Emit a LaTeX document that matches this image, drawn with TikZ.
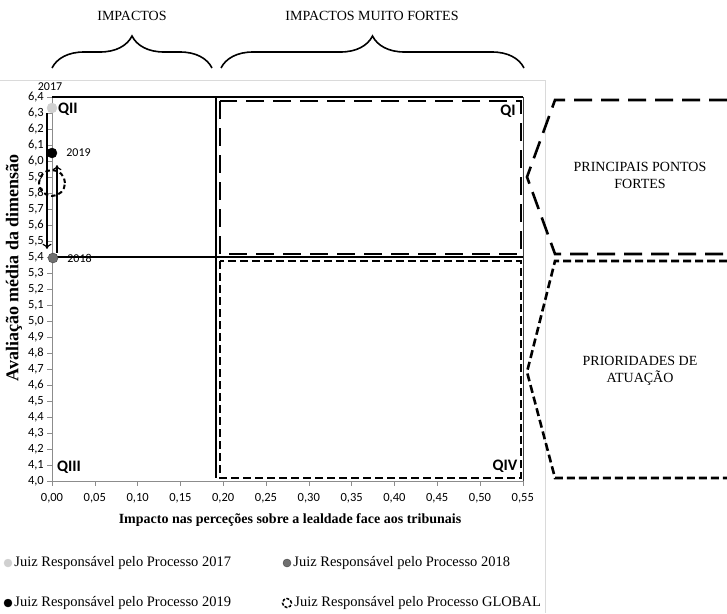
\documentclass[tikz,border=0pt]{standalone}
\usepackage{fontspec}
\setmainfont{Liberation Serif}
\newfontfamily\calfont{Carlito}
\usepackage{tikz}
\usetikzlibrary{positioning, arrows.meta, decorations.pathreplacing, calc}

\definecolor{pale}{HTML}{D0D0D0}
\definecolor{mid}{HTML}{707070}
\definecolor{axisgray}{HTML}{8C8C8C}
\definecolor{framegray}{HTML}{DADADA}

\tikzset{
    ticktext/.style={font=\calfont\fontsize{12.5}{14}\selectfont, inner sep=1pt},
    yeartext/.style={font=\calfont\fontsize{12}{14}\selectfont, inner sep=0pt},
    quadtext/.style={font=\calfont\bfseries\fontsize{16}{18}\selectfont, inner sep=1pt},
    headtext/.style={font=\fontsize{14}{17}\selectfont, align=center},
    legendtext/.style={font=\fontsize{14.5}{17}\selectfont, inner sep=0pt},
    axistitle/.style={font=\bfseries\fontsize{14}{17}\selectfont},
    longdash/.style={line width=2.6pt, dash pattern=on 18pt off 9pt},
    shortdash/.style={line width=2.6pt, dash pattern=on 8pt off 4pt},
    dot/.style={circle, minimum size=10pt, inner sep=0pt},
    ring/.style={circle, draw, line width=2pt, dash pattern=on 4.5pt off 3pt, minimum size=26pt, inner sep=0pt},
    trend/.style={line width=1.2pt, -{To[length=5pt, width=9pt]}},
    bracket/.style={decorate, decoration={brace, amplitude=32pt}, line width=1.6pt},
}

\def\tikaxes{%
    \def\xzero{52}
    \def\xstep{42.8}
    \def\ybase{481}
    \def\ystep{16}

    \coordinate (o) at (\xzero,\ybase);
    \coordinate (xend) at (523,\ybase);
    \coordinate (ytop) at (\xzero,97);
    \coordinate (corner) at (523,97);

    % draw y ticks and labels
    \foreach \i in {0,...,24}
    {
        \pgfmathtruncatemacro\a{(40+\i)/10}
        \pgfmathtruncatemacro\b{mod(40+\i,10)}
        \draw[axisgray] (\xzero-5, \ybase-\i*\ystep) -- (\xzero, \ybase-\i*\ystep);
        \node[ticktext, anchor=east] (yl\i) at (\xzero-7, \ybase-\i*\ystep) {\a,\b};
    }

    % draw x ticks and labels
    \foreach \i in {0,...,11}
    {
        \pgfmathtruncatemacro\c{5*\i}
        \draw[axisgray] (\xzero+\i*\xstep, \ybase) -- (\xzero+\i*\xstep, \ybase+5);
        \node[ticktext, anchor=north] (xl\i) at (\xzero+\i*\xstep, \ybase+11) {0,\ifnum\c<10 0\fi\c};
    }

    % axes and border
    \draw[axisgray] (ytop) -- (o) -- (xend);
    \draw[black, line width=1.4pt] (ytop) -- (corner);
    \draw[darkgray] (corner) -- (xend);
}

\begin{document}
\begin{tikzpicture}[x=1pt, y=-1pt]
    \useasboundingbox (0,0) rectangle (727,613);

    % page frame
    \draw[framegray] (0,80) -- (545,80) -- (545,613);

    \tikaxes

    % quadrant lines
    \coordinate (hl) at (52,257);
    \coordinate (hr) at (523,257);
    \coordinate (vt) at (216,97);
    \coordinate (vb) at (216,478);
    \draw[black, line width=2pt] (hl) -- (hr);
    \draw[black, line width=2pt] (vt) -- (vb);

    % quadrant boxes
    \draw[longdash] (220,101) rectangle (521,254);
    \draw[shortdash] (220,261) rectangle (521,478);

    \foreach \qn/\qt/\qx/\qy in {
        q1/QI/508/111,
        q2/QII/68/109,
        q3/QIII/69/467,
        q4/QIV/505/466}{

        \node[quadtext] (\qn) at (\qx,\qy) {\qt};
    }

    % points
    \node[dot, fill=pale, draw=pale] (p2017) at (52,108) {};
    \node[dot, fill=black, draw=black] (p2019) at (52,153) {};
    \node[dot, fill=mid, draw=mid!60!black] (p2018) at (53,258) {};
    \node[ring] (pglobal) at (52,183) {};

    \node[yeartext, above=12pt of p2017, xshift=-2pt] (l2017) {2017};
    \node[yeartext, right=9pt of p2019] (l2019) {2019};
    \node[yeartext, right=9pt of p2018] (l2018) {2018};

    \draw[trend] ([xshift=-5pt]p2017.south) -- ([xshift=-6pt, yshift=4pt]p2018.north);
    \draw[trend] ([xshift=4pt]p2018.north) -- ([xshift=5pt, yshift=-7pt]p2019.south);

    % axis titles
    \node[axistitle, font=\bfseries\fontsize{18}{20}\selectfont, rotate=90] (ytitle) at (14,268) {Avaliação média da dimensão};
    \node[axistitle] (xtitle) at (290,520) {Impacto nas perceções sobre a lealdade face aos tribunais};

    % braces
    \coordinate (b1l) at (52,68);
    \coordinate (b1r) at (212,68);
    \coordinate (b2l) at (221,68);
    \coordinate (b2r) at (524,68);
    \draw[bracket] (b1l) -- (b1r);
    \draw[bracket] (b2l) -- (b2r);
    \node[headtext] (h1) at (132,16) {IMPACTOS};
    \node[headtext] (h2) at (372,16) {IMPACTOS MUITO FORTES};

    % right side shapes
    \draw[longdash] (727,100) -- (555,100) -- (527,177) -- (555,254) -- (727,254);
    \draw[shortdash] (727,261) -- (555,261) -- (527,372) -- (555,478) -- (727,478);
    \node[headtext] (strong) at (640,175) {PRINCIPAIS PONTOS\\FORTES};
    \node[headtext] (prior) at (640,371) {PRIORIDADES DE\\ATUAÇÃO};

    % legend
    \node[dot, minimum size=8pt, fill=pale, draw=pale] (k2017) at (8,563) {};
    \node[dot, minimum size=8pt, fill=mid, draw=mid!60!black] (k2018) at (287,563) {};
    \node[dot, minimum size=8pt, fill=black, draw=black] (k2019) at (8,603) {};
    \node[ring, minimum size=9pt, line width=1.5pt, dash pattern=on 3pt off 1.5pt] (kglobal) at (287,603) {};

    \foreach \key/\yr in {
        k2017/2017,
        k2018/2018,
        k2019/2019,
        kglobal/GLOBAL}{

        \node[legendtext, right=2pt of \key] (t\key) {Juiz Responsável pelo Processo \yr};
    }
\end{tikzpicture}
\end{document}
